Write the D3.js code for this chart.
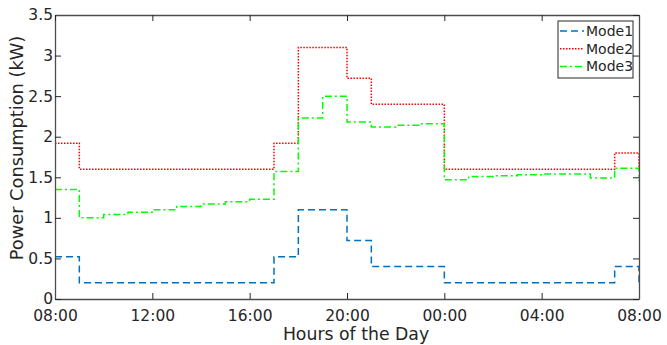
<!DOCTYPE html>
<html>
<head>
<meta charset="utf-8">
<script src="https://cdn.jsdelivr.net/npm/d3@7"></script>
<style>
  body { margin: 0; background: #fff; }
  svg { display: block; font-family: "DejaVu Sans", Verdana, sans-serif; }
</style>
</head>
<body>
<div id="chart"></div>
<script>
// hour offsets from 08:00 (last point is 08:00 next day)
var hours = [0, 1, 2, 3, 4, 5, 6, 7, 8, 9, 10, 11, 12, 13, 14, 15, 16, 17, 18, 19, 20, 21, 22, 23, 24];
var mode1 = [0.52, 0.2, 0.2, 0.2, 0.2, 0.2, 0.2, 0.2, 0.2, 0.52, 1.1, 1.1, 0.72, 0.4, 0.4, 0.4, 0.2, 0.2, 0.2, 0.2, 0.2, 0.2, 0.2, 0.4, 0.2];
var mode2 = [1.92, 1.6, 1.6, 1.6, 1.6, 1.6, 1.6, 1.6, 1.6, 1.92, 3.1, 3.1, 2.72, 2.4, 2.4, 2.4, 1.6, 1.6, 1.6, 1.6, 1.6, 1.6, 1.6, 1.8, 1.6];
var mode3 = [1.35, 1.0, 1.04, 1.07, 1.1, 1.14, 1.17, 1.2, 1.23, 1.57, 2.23, 2.5, 2.18, 2.12, 2.14, 2.16, 1.47, 1.51, 1.52, 1.53, 1.54, 1.54, 1.49, 1.61, 1.45];
var seriesNames = ["Mode1", "Mode2", "Mode3"];
var xTicks = [0, 4, 8, 12, 16, 20, 24];
var xTickLabels = ["08:00", "12:00", "16:00", "20:00", "00:00", "04:00", "08:00"];
var yTicks = [0, 0.5, 1, 1.5, 2, 2.5, 3, 3.5];

var width = 667,
    height = 345,
    margin = {top: 15, right: 28, bottom: 46, left: 55};

var svg = d3.select("#chart").append("svg")
            .attr("width", width)
            .attr("height", height);

var x = d3.scaleLinear().domain([0, 24]).range([margin.left, width - margin.right]);
var y = d3.scaleLinear().domain([0, 3.5]).range([height - margin.bottom, margin.top]);

var styles = [
    {color: "#0072BD", dash: "7,4"},
    {color: "#FF0000", dash: "1.5,1.5"},
    {color: "#00FF00", dash: "7,3,2,3"}
];
var allSeries = [mode1, mode2, mode3].map(function(vals, i) {
    return {name: seriesNames[i], style: styles[i], points: hours.map((h, j) => [h, vals[j]])};
});

var axisColor = "#4d4d4d";

// lines
var line = d3.line()
             .x(d => x(d[0]))
             .y(d => y(d[1]))
             .curve(d3.curveStepAfter);

svg.append("g").selectAll("path")
   .data(allSeries)
   .enter().append("path")
   .attr("d", d => line(d.points))
   .attr("fill", "none")
   .attr("stroke", d => d.style.color)
   .attr("stroke-width", 1.5)
   .attr("stroke-dasharray", d => d.style.dash);

// axes
var xAxis = d3.axisBottom(x).tickValues(xTicks)
              .tickFormat((d, i) => xTickLabels[i])
              .tickSizeInner(-6).tickSizeOuter(0).tickPadding(11);
var yAxis = d3.axisLeft(y).tickValues(yTicks)
              .tickFormat(d3.format("~g"))
              .tickSizeInner(-6).tickSizeOuter(0).tickPadding(2);

var gx = svg.append("g")
   .attr("transform", "translate(0," + (height - margin.bottom) + ")")
   .call(xAxis);
var gy = svg.append("g")
   .attr("transform", "translate(" + margin.left + ",0)")
   .call(yAxis);

// mirrored ticks (box)
var gxTop = svg.append("g")
   .attr("transform", "translate(0," + margin.top + ")")
   .call(d3.axisTop(x).tickValues(xTicks).tickFormat("").tickSizeInner(-6).tickSizeOuter(0));
var gyRight = svg.append("g")
   .attr("transform", "translate(" + (width - margin.right) + ",0)")
   .call(d3.axisRight(y).tickValues(yTicks).tickFormat("").tickSizeInner(-6).tickSizeOuter(0));

[gx, gy, gxTop, gyRight].forEach(function(g) {
    g.selectAll(".domain").attr("stroke", axisColor).attr("stroke-width", 1.3);
    g.selectAll(".tick line").attr("stroke", "#262626").attr("stroke-width", 1);
    g.selectAll(".tick text").attr("fill", "#262626").style("font-size", "15.5px")
     .style("font-family", "'DejaVu Sans', Verdana, sans-serif");
});

// axis labels
svg.append("text")
   .attr("x", 356)
   .attr("y", 340)
   .attr("text-anchor", "middle")
   .attr("fill", "#262626")
   .style("font-size", "17.3px")
   .text("Hours of the Day");

svg.append("text")
   .attr("transform", "translate(23,148) rotate(-90)")
   .attr("text-anchor", "middle")
   .attr("fill", "#262626")
   .style("font-size", "17.8px")
   .text("Power Consumption (kW)");

// legend
var legend = svg.append("g").attr("transform", "translate(558,21)");
legend.append("rect")
      .attr("width", 75).attr("height", 57)
      .attr("fill", "#fff")
      .attr("stroke", "#262626").attr("stroke-width", 1);

var entry = legend.selectAll("g.entry")
      .data(allSeries)
      .enter().append("g")
      .attr("class", "entry")
      .attr("transform", (d, i) => "translate(0," + (10 + i * 17.7) + ")");
entry.append("line")
     .attr("x1", 2).attr("x2", 26)
     .attr("stroke", d => d.style.color)
     .attr("stroke-width", 1.5)
     .attr("stroke-dasharray", d => d.style.dash);
entry.append("text")
     .attr("x", 28).attr("dy", "0.35em")
     .attr("fill", "#262626")
     .style("font-size", "14px")
     .text(d => d.name);
</script>
</body>
</html>
